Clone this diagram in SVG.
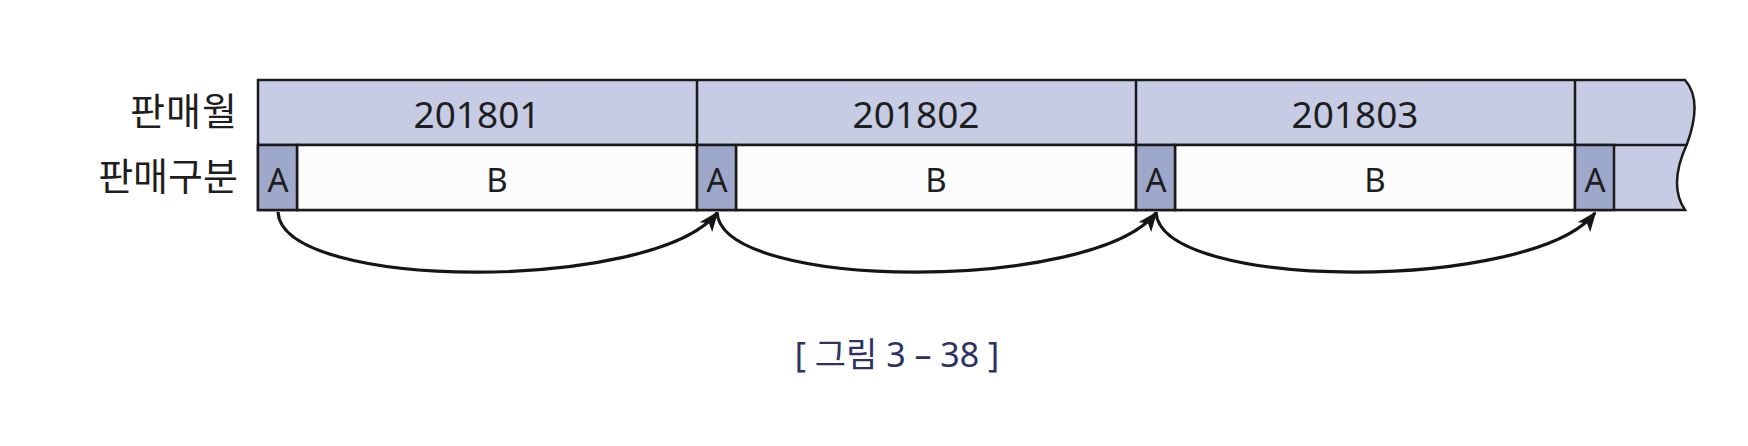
<svg xmlns="http://www.w3.org/2000/svg" width="1748" height="446" viewBox="0 0 1748 446">
<defs>
<style>
.lbl{font-family:"Noto Sans CJK KR","Noto Sans",sans-serif;font-size:38px;fill:#1e1e1e;text-anchor:end}
.num{font-family:"Noto Sans","Noto Sans CJK KR",sans-serif;font-size:37px;fill:#1e1e1e;text-anchor:middle}
.ab{font-family:"Noto Sans","Noto Sans CJK KR",sans-serif;font-size:33px;fill:#1e1e1e;text-anchor:middle}
.cap{font-family:"Noto Sans","Noto Sans CJK KR",sans-serif;font-size:34px;fill:#2d3263;text-anchor:middle}
.acell{fill:#9ea8cb;stroke:#1a1a1a;stroke-width:2.5}
.bcell{fill:#fcfcfd;stroke:#1a1a1a;stroke-width:2.5}
.line{stroke:#1a1a1a;stroke-width:2.5;fill:none}
.arc{stroke:#151515;stroke-width:3.2;fill:none;marker-end:url(#ah)}
</style>
<marker id="ah" viewBox="0 0 20 16" refX="18" refY="8" markerWidth="20" markerHeight="16" markerUnits="userSpaceOnUse" orient="auto">
<path d="M0,0 L20,8 L0,16 L5,8 Z" fill="#151515"/>
</marker>
</defs>
<rect width="1748" height="446" fill="#ffffff"/>
<g id="labels">
<text class="lbl" x="238" y="125" letter-spacing="1">판매월</text>
<text class="lbl" x="238" y="190">판매구분</text>
</g>
<g id="background">
<path d="M258,80 L1685,80 Q1703,100 1687,144 Q1668,185 1685,210 L258,210 Z" fill="#c6cce4" stroke="#1a1a1a" stroke-width="2.5"/>
<line class="line" x1="258" y1="145" x2="1687" y2="145"/>
</g>
<g id="month-201801">
<rect class="bcell" x="297" y="145" width="400" height="65"/>
<rect class="acell" x="258" y="145" width="39" height="65"/>
<text class="num" x="477" y="128">201801</text>
<text class="ab" x="278" y="192">A</text>
<text class="ab" x="497" y="192">B</text>
</g>
<g id="month-201802">
<rect class="bcell" x="736" y="145" width="400" height="65"/>
<rect class="acell" x="697" y="145" width="39" height="65"/>
<line class="line" x1="697" y1="80" x2="697" y2="145"/>
<text class="num" x="916" y="128">201802</text>
<text class="ab" x="717" y="192">A</text>
<text class="ab" x="936" y="192">B</text>
</g>
<g id="month-201803">
<rect class="bcell" x="1175" y="145" width="400" height="65"/>
<rect class="acell" x="1136" y="145" width="39" height="65"/>
<line class="line" x1="1136" y1="80" x2="1136" y2="145"/>
<text class="num" x="1355" y="128">201803</text>
<text class="ab" x="1156" y="192">A</text>
<text class="ab" x="1375" y="192">B</text>
</g>
<g id="month-next">
<rect class="acell" x="1575" y="145" width="39" height="65"/>
<line class="line" x1="1575" y1="80" x2="1575" y2="145"/>
<text class="ab" x="1595" y="192">A</text>
</g>
<g id="connectors">
<path class="arc" d="M278,212 C282,292 655,292 717,213"/>
<path class="arc" d="M717,212 C721,292 1094,292 1156,213"/>
<path class="arc" d="M1156,212 C1160,292 1533,292 1595,213"/>
</g>
<g id="caption">
<text class="cap" x="897" y="367">[ 그림 3 – 38 ]</text>
</g>
</svg>
